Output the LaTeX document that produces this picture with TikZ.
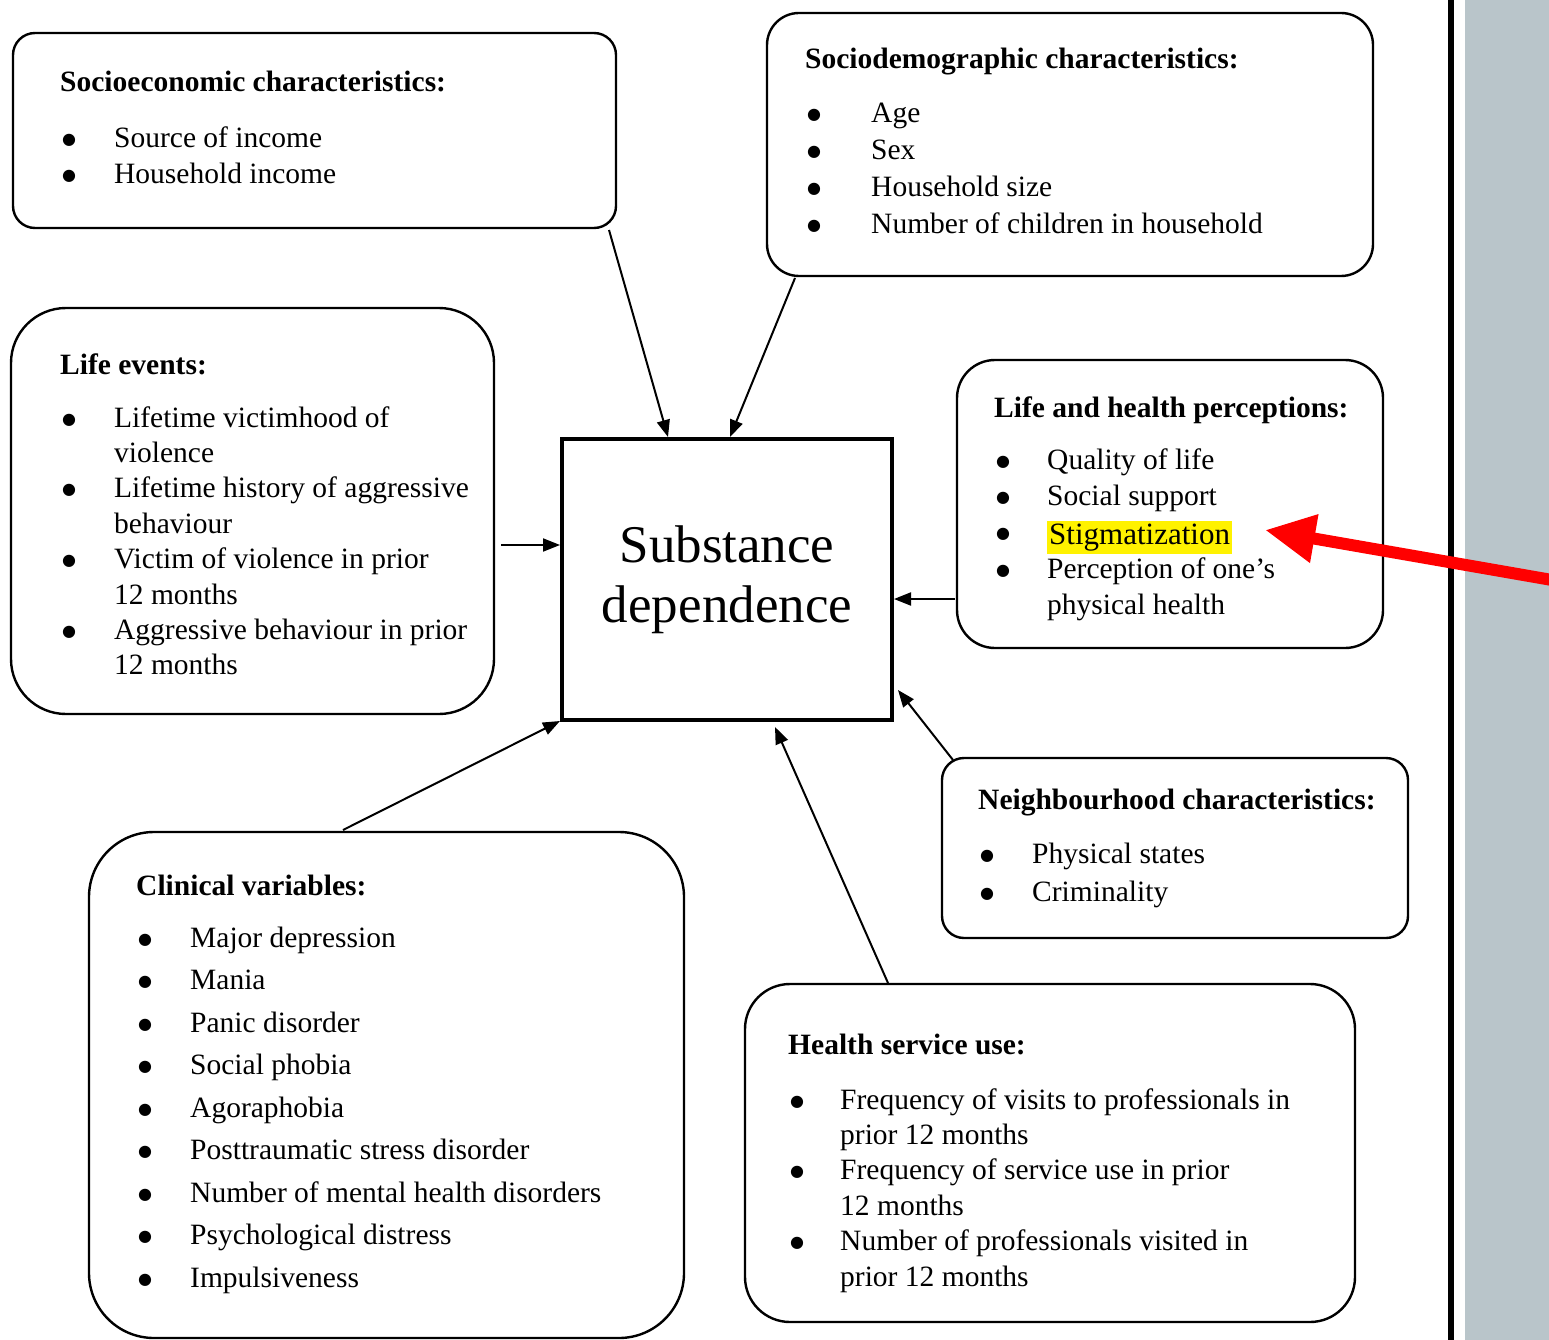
\documentclass[tikz,border=0pt]{standalone}
\usepackage{fontspec}
\setmainfont{Liberation Serif}
\newfontfamily\dotfont{DejaVu Sans}
\usetikzlibrary{arrows.meta}
\definecolor{panelgray}{RGB}{185,197,202}
\newlength\bulw
\newcommand\bdot{\raisebox{3pt}{\dotfont\fontsize{16}{16}\selectfont ●}}
\newcommand\bitem[1]{\makebox[\bulw][l]{\bdot}#1}
\newcommand\bcont[1]{\hspace*{\bulw}#1}
\newcommand\blist[3]{\setlength\bulw{#1}\fontsize{29.5}{#2}\selectfont\begin{tabular}[t]{@{}l@{}}#3\end{tabular}}
\newcommand\hlmark[1]{{\setlength\fboxsep{0pt}\colorbox{yellow}{\fontsize{31}{33}\selectfont\strut\hspace{2pt}#1\hspace{2pt}}}}
\begin{document}
\begin{tikzpicture}[x=1pt,y=-1pt,
  box/.style={draw, line width=2.4pt, inner sep=0},
  hd/.style={font=\bfseries\fontsize{29.5}{36}\selectfont, anchor=base west, inner sep=0},
  lst/.style={anchor=base west, inner sep=0},
  arr/.style={line width=2pt, -{Triangle[length=17pt,width=13pt]}}]
\useasboundingbox (0,0) rectangle (1549,1340);
\fill[white] (0,0) rectangle (1549,1340);
\fill[panelgray] (1465,0) rectangle (1549,1340);
\draw[line width=6pt] (1451,0) -- (1451,1340);

% boxes
\node[box, rounded corners=22pt, minimum width=603pt, minimum height=195pt] (se) at (314.5,130.5) {};
\node[box, rounded corners=32pt, minimum width=606pt, minimum height=263pt] (sd) at (1070,144.5) {};
\node[box, rounded corners=55pt, minimum width=483pt, minimum height=406pt] (le) at (252.5,511) {};
\node[box, rounded corners=38pt, minimum width=426pt, minimum height=288pt] (lh) at (1170,504) {};
\node[box, rounded corners=22pt, minimum width=466pt, minimum height=180pt] (nb) at (1175,848) {};
\node[box, rounded corners=65pt, minimum width=595pt, minimum height=506pt] (cv) at (386.5,1085) {};
\node[box, rounded corners=45pt, minimum width=610pt, minimum height=338pt] (hs) at (1050,1153) {};

\node[draw, line width=4pt, minimum width=330pt, minimum height=281pt, inner sep=0, align=center,
  font=\fontsize{53}{60}\selectfont] (sub) at (727,579.5) {Substance\\dependence};

% texts
\node[hd] (se-h) at (60,92) {Socioeconomic characteristics:};
\node[lst] (se-l) at (62,148) {\blist{52pt}{36pt}{\bitem{Source of income}\\ \bitem{Household income}}};

\node[hd] (sd-h) at (805,69) {Sociodemographic characteristics:};
\node[lst] (sd-l) at (807,123) {\blist{64pt}{36.7pt}{\bitem{Age}\\ \bitem{Sex}\\ \bitem{Household size}\\ \bitem{Number of children in household}}};

\node[hd] (le-h) at (60,374) {Life events:};
\node[lst] (le-l) at (62,427) {\blist{52pt}{35.4pt}{\bitem{Lifetime victimhood of}\\ \bcont{violence}\\ \bitem{Lifetime history of aggressive}\\ \bcont{behaviour}\\ \bitem{Victim of violence in prior}\\ \bcont{12 months}\\ \bitem{Aggressive behaviour in prior}\\ \bcont{12 months}}};

\node[hd] (lh-h) at (994,417) {Life and health perceptions:};
\node[lst] (lh-l) at (996,469) {\blist{51pt}{36pt}{\bitem{Quality of life}\\ \bitem{Social support}\\ \bitem{\raisebox{-3pt}{\hlmark{Stigmatization}}}\\[-1pt] \bitem{Perception of one’s}\\ \bcont{physical health}}};

\node[hd] (nb-h) at (978,809) {Neighbourhood characteristics:};
\node[lst] (nb-l) at (980,863) {\blist{52pt}{38pt}{\bitem{Physical states}\\ \bitem{Criminality}}};

\node[hd] (cv-h) at (136,895) {Clinical variables:};
\node[lst] (cv-l) at (138,947) {\blist{52pt}{42.5pt}{\bitem{Major depression}\\ \bitem{Mania}\\ \bitem{Panic disorder}\\ \bitem{Social phobia}\\ \bitem{Agoraphobia}\\ \bitem{Posttraumatic stress disorder}\\ \bitem{Number of mental health disorders}\\ \bitem{Psychological distress}\\ \bitem{Impulsiveness}}};

\node[hd] (hs-h) at (788,1054) {Health service use:};
\node[lst] (hs-l) at (790,1109) {\blist{50pt}{35.4pt}{\bitem{Frequency of visits to professionals in}\\ \bcont{prior 12 months}\\ \bitem{Frequency of service use in prior}\\ \bcont{12 months}\\ \bitem{Number of professionals visited in}\\ \bcont{prior 12 months}}};

% connector start points
\coordinate (c-se) at (609,230);
\coordinate (c-sd) at (795,278);
\coordinate (c-le) at (501,545);
\coordinate (c-lh) at (955,599);
\coordinate (c-nb) at (953,760);
\coordinate (c-hs) at (888,983);
\coordinate (c-cv) at (343,830);

\draw[arr] (c-se) -- ([xshift=-59pt]sub.north);
\draw[arr] (c-sd) -- ([xshift=3pt]sub.north);
\draw[arr] (c-le) -- ([yshift=34.5pt]sub.west);
\draw[arr] (c-lh) -- ([yshift=-19.5pt]sub.east);
\draw[arr] (c-nb) -- ([xshift=4pt,yshift=32pt]sub.south east);
\draw[arr] (c-hs) -- ([xshift=48pt,yshift=-5pt]sub.south);
\draw[arr] (c-cv) -- ([yshift=1pt]sub.south west);

% red pointer
\coordinate (r-start) at (1552,580);
\coordinate (r-tip) at (1265,530);
\draw[red, line width=12pt, -{Triangle[length=50pt,width=46pt]}] (r-start) -- (r-tip);
\end{tikzpicture}
\end{document}
